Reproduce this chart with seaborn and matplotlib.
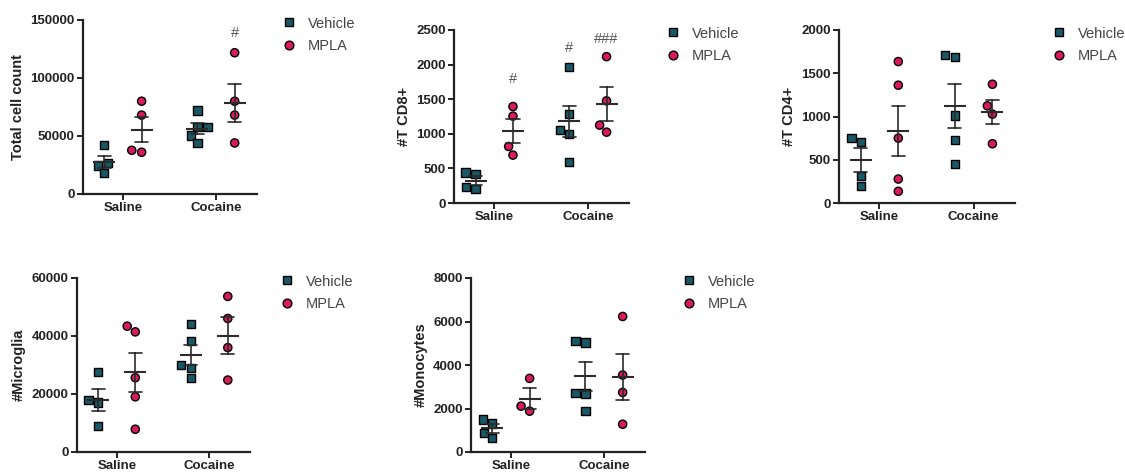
import numpy as np
import pandas as pd
import matplotlib
matplotlib.use("Agg")
import matplotlib.pyplot as plt
import seaborn as sns
from matplotlib.lines import Line2D
from matplotlib.ticker import FuncFormatter

# ---------------- data ----------------
conditions = ["Saline", "Cocaine"]
treatments = ["Vehicle", "MPLA"]

total_veh_saline = [42000, 26800, 24500, 18100]
total_mpla_saline = [80000, 68000, 36000, 37700]
total_veh_cocaine = [72000, 57900, 57900, 50400, 44000]
total_mpla_cocaine = [121800, 80000, 68000, 44000]

cd8_veh_saline = [442, 423, 202, 226]
cd8_mpla_saline = [1394, 1255, 817, 692]
cd8_veh_cocaine = [1971, 1284, 995, 1058, 587]
cd8_mpla_cocaine = [2115, 1476, 1024, 1125]

cd4_veh_saline = [750, 704, 315, 200]
cd4_mpla_saline = [1635, 1362, 750, 277, 135]
cd4_veh_cocaine = [1685, 1712, 1012, 731, 454]
cd4_mpla_cocaine = [1373, 1123, 1027, 685]

micro_veh_saline = [27580, 17080, 17890, 8890]
micro_mpla_saline = [41430, 43390, 25620, 19040, 7850]
micro_veh_cocaine = [44080, 38200, 28970, 29890, 25620]
micro_mpla_cocaine = [53660, 46040, 36000, 24810]

mono_veh_saline = [1492, 1308, 646, 892]
mono_mpla_saline = [3385, 1877, 2108]
mono_veh_cocaine = [5031, 5108, 2723, 2692, 1877]
mono_mpla_cocaine = [6231, 3538, 2738, 1277]

ylabels = ["Total cell count", "#T CD8+", "#T CD4+", "#Microglia", "#Monocytes"]
yticks_list = [
    [0, 50000, 100000, 150000],
    [0, 500, 1000, 1500, 2000, 2500],
    [0, 500, 1000, 1500, 2000],
    [0, 20000, 40000, 60000],
    [0, 2000, 4000, 6000, 8000],
]
# (condition, treatment, label, y)
annotations = [
    [("Cocaine", "MPLA", "#", 139000)],
    [("Saline", "MPLA", "#", 1790), ("Cocaine", "Vehicle", "#", 2245), ("Cocaine", "MPLA", "###", 2365)],
    [], [], [],
]

panel_values = [
    (total_veh_saline, total_mpla_saline, total_veh_cocaine, total_mpla_cocaine),
    (cd8_veh_saline, cd8_mpla_saline, cd8_veh_cocaine, cd8_mpla_cocaine),
    (cd4_veh_saline, cd4_mpla_saline, cd4_veh_cocaine, cd4_mpla_cocaine),
    (micro_veh_saline, micro_mpla_saline, micro_veh_cocaine, micro_mpla_cocaine),
    (mono_veh_saline, mono_mpla_saline, mono_veh_cocaine, mono_mpla_cocaine),
]


def make_df(vals):
    rows = []
    keys = [("Saline", "Vehicle"), ("Saline", "MPLA"), ("Cocaine", "Vehicle"), ("Cocaine", "MPLA")]
    for (c, t), v in zip(keys, vals):
        for x in v:
            rows.append({"condition": c, "treatment": t, "value": x})
    return pd.DataFrame(rows)


# ---------------- style ----------------
sns.set_theme(style="ticks")
plt.rcParams["font.family"] = ["Liberation Sans", "DejaVu Sans"]
plt.rcParams["axes.linewidth"] = 1.6

colors = {"Vehicle": "#1b5866", "MPLA": "#d81b5e"}
markers = {"Vehicle": "s", "MPLA": "o"}
line_color = "#2b2b2b"

fig = plt.figure(figsize=(11.25, 4.72), dpi=100)
W, H = 1125, 472
# pixel boxes: left, right, top, bottom
boxes = [
    (83, 257, 20, 194),
    (454, 629, 30, 203),
    (839, 1015, 30, 203),
    (77, 250, 278, 452),
    (471, 645, 278, 452),
]
legend_x = [1.14, 1.21, 1.21, 1.17, 1.21]

for i, vals in enumerate(panel_values):
    l, r, t, b = boxes[i]
    ax = fig.add_axes([l / W, 1 - b / H, (r - l) / W, (b - t) / H])
    df = make_df(vals)

    for tr in treatments:
        sub = df[df["treatment"] == tr]
        sns.swarmplot(data=sub, x="condition", y="value", hue="treatment",
                      order=conditions, hue_order=treatments, dodge=True,
                      palette=colors, marker=markers[tr], size=5.9,
                      edgecolor="black", linewidth=1.0, ax=ax, legend=False,
                      zorder=2)

    sns.pointplot(data=df, x="condition", y="value", hue="treatment",
                  order=conditions, hue_order=treatments, dodge=0.4,
                  errorbar="se", capsize=0.14, markers="_", markersize=16,
                  markeredgewidth=1.5, linestyles="none",
                  palette=[line_color, line_color],
                  err_kws={"linewidth": 1.2}, ax=ax, legend=False)

    yt = yticks_list[i]
    ax.set_ylim(0, yt[-1])
    ax.set_yticks(yt)
    ax.yaxis.set_major_formatter(FuncFormatter(lambda v, p: f"{int(v)}"))
    ax.set_xlim(-0.43, 1.44)
    ax.set_xlabel("")
    ax.set_ylabel(ylabels[i], fontsize=10.5, fontweight="bold", color="#222222",
                  labelpad=4)
    ax.tick_params(axis="both", length=4, width=1.4, colors="#222222",
                   labelsize=9.5, pad=2)
    for lab in ax.get_xticklabels() + ax.get_yticklabels():
        lab.set_fontweight("bold")
    sns.despine(ax=ax)
    ax.spines["left"].set_color("#222222")
    ax.spines["bottom"].set_color("#222222")

    for cond, tr, text, yv in annotations[i]:
        xpos = conditions.index(cond) + (-0.2 if tr == "Vehicle" else 0.2)
        ax.text(xpos, yv, text, ha="center", va="center", fontsize=10.5,
                color="#555555")

    handles = [Line2D([], [], linestyle="none", marker=markers[tr], markersize=6.3,
                      markerfacecolor=colors[tr], markeredgecolor="black",
                      markeredgewidth=1.0) for tr in treatments]
    ax.legend(handles, treatments, loc="upper left",
              bbox_to_anchor=(legend_x[i], 1.02), frameon=False,
              handlelength=1.0, handletextpad=0.8, labelspacing=0.6,
              borderpad=0, borderaxespad=0, fontsize=10.5, labelcolor="#444444")

fig.savefig("out.png", dpi=100)
